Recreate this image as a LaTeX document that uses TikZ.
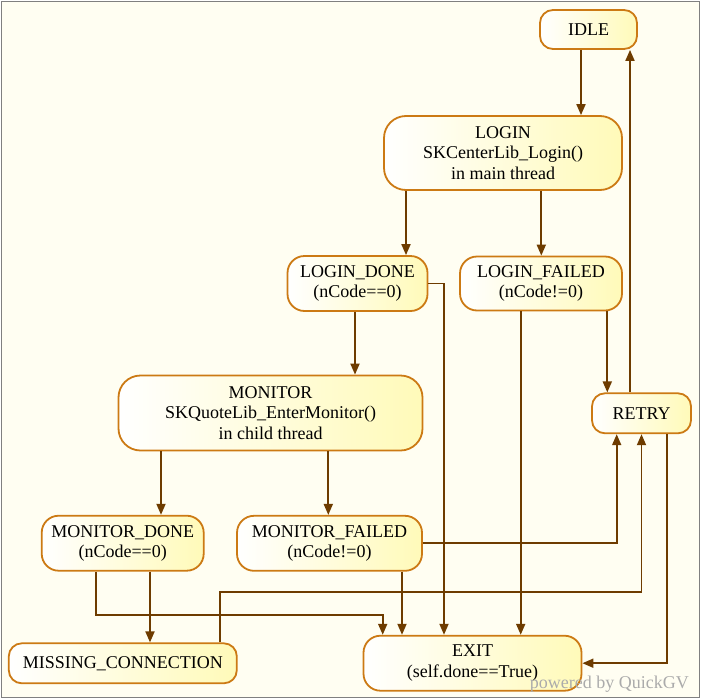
\documentclass[tikz,border=0pt]{standalone}
\usepackage{fontspec}
\setmainfont{Liberation Serif}
\usetikzlibrary{arrows.meta}
\definecolor{gvline}{RGB}{110,60,0}
\definecolor{gvborder}{RGB}{204,122,20}
\definecolor{gvyellow}{RGB}{255,250,185}
\definecolor{gvpaper}{RGB}{255,254,242}

\begin{document}
\begin{tikzpicture}[x=1pt, y=-1pt,
    state/.style={draw=gvborder, line width=1.8pt, rounded corners=#1,
        left color=white, right color=gvyellow, align=center, inner sep=0pt,
        font=\fontsize{18}{20.5}\selectfont},
    state/.default=17pt,
    edge/.style={draw=gvline, line width=1.8pt, -{Triangle[length=11pt,width=9pt]}}]
    \useasboundingbox (0,0) rectangle (701,699);
    \draw[gray, line width=1pt, fill=gvpaper] (1,1) rectangle (699,697);

    \node[state=13pt, minimum width=97pt, minimum height=39pt] (idle) at (588.5,29.5) {IDLE};
    \node[state=22pt, minimum width=238pt, minimum height=74pt] (login) at (503,153)
        {LOGIN\\SKCenterLib\_Login()\\in main thread};
    \node[state, minimum width=140pt, minimum height=55pt] (ldone) at (357.5,283.5)
        {LOGIN\_DONE\\(nCode==0)};
    \node[state, minimum width=162pt, minimum height=54pt] (lfailed) at (541,283.5)
        {LOGIN\_FAILED\\(nCode!=0)};
    \node[state=22pt, minimum width=304pt, minimum height=75pt] (monitor) at (270.5,413)
        {MONITOR\\SKQuoteLib\_EnterMonitor()\\in child thread};
    \node[state=13pt, minimum width=99pt, minimum height=40pt] (retry) at (641.5,413.3) {RETRY};
    \node[state, minimum width=162pt, minimum height=55pt] (mdone) at (122.7,543.2)
        {MONITOR\_DONE\\(nCode==0)};
    \node[state, minimum width=185pt, minimum height=55pt] (mfailed) at (329.5,543.3)
        {MONITOR\_FAILED\\(nCode!=0)};
    \node[state=13pt, minimum width=228pt, minimum height=40pt] (missing) at (122.8,663.3)
        {MISSING\_CONNECTION};
    \node[state, minimum width=218pt, minimum height=55pt] (exit) at (472.5,663.2)
        {EXIT\\(self.done==True)};

    \draw[edge] ([xshift=-7.5]idle.south) -- ([xshift=-7.5]idle.south |- login.north);
    \draw[edge] ([xshift=-97]login.south) -- ([xshift=-97]login.south |- ldone.north);
    \draw[edge] ([xshift=38.3]login.south) -- ([xshift=38.3]login.south |- lfailed.north);
    \draw[edge] ([xshift=-2.5]ldone.south) -- ([xshift=-2.5]ldone.south |- monitor.north);
    \draw[edge] (ldone.east) -| ([xshift=-28.5]exit.north);
    \draw[edge] ([xshift=-20.3]lfailed.south) -- ([xshift=-20.3]lfailed.south |- exit.north);
    \draw[edge] ([xshift=66.3]lfailed.south) -- ([xshift=66.3]lfailed.south |- retry.north);
    \draw[edge] ([xshift=-11.5]retry.north) -- ([xshift=-11.5]retry.north |- idle.south);
    \draw[edge] ([xshift=-109.5]monitor.south) -- ([xshift=-109.5]monitor.south |- mdone.north);
    \draw[edge] ([xshift=57.8]monitor.south) -- ([xshift=57.8]monitor.south |- mfailed.north);
    \draw[edge] ([xshift=27.3]mdone.south) -- ([xshift=27.3]mdone.south |- missing.north);
    \draw[edge] ([xshift=-26.7]mdone.south) -- ++(0,43.5) -| ([xshift=-89.8]exit.north);
    \draw[edge] ([xshift=72.5]mfailed.south) -- ([xshift=72.5]mfailed.south |- exit.north);
    \draw[edge] (mfailed.east) -| ([xshift=-24.8]retry.south);
    \draw[edge] ([xshift=97.2]missing.north) -- ++(0,-50.8) -| (retry.south);
    \draw[edge] ([xshift=25.2]retry.south) |- (exit.east);

    \node[anchor=base east, inner sep=0pt, text=black!33, font=\fontsize{18}{20}\selectfont]
        (stamp) at (689,688) {powered by QuickGV};
\end{tikzpicture}
\end{document}
